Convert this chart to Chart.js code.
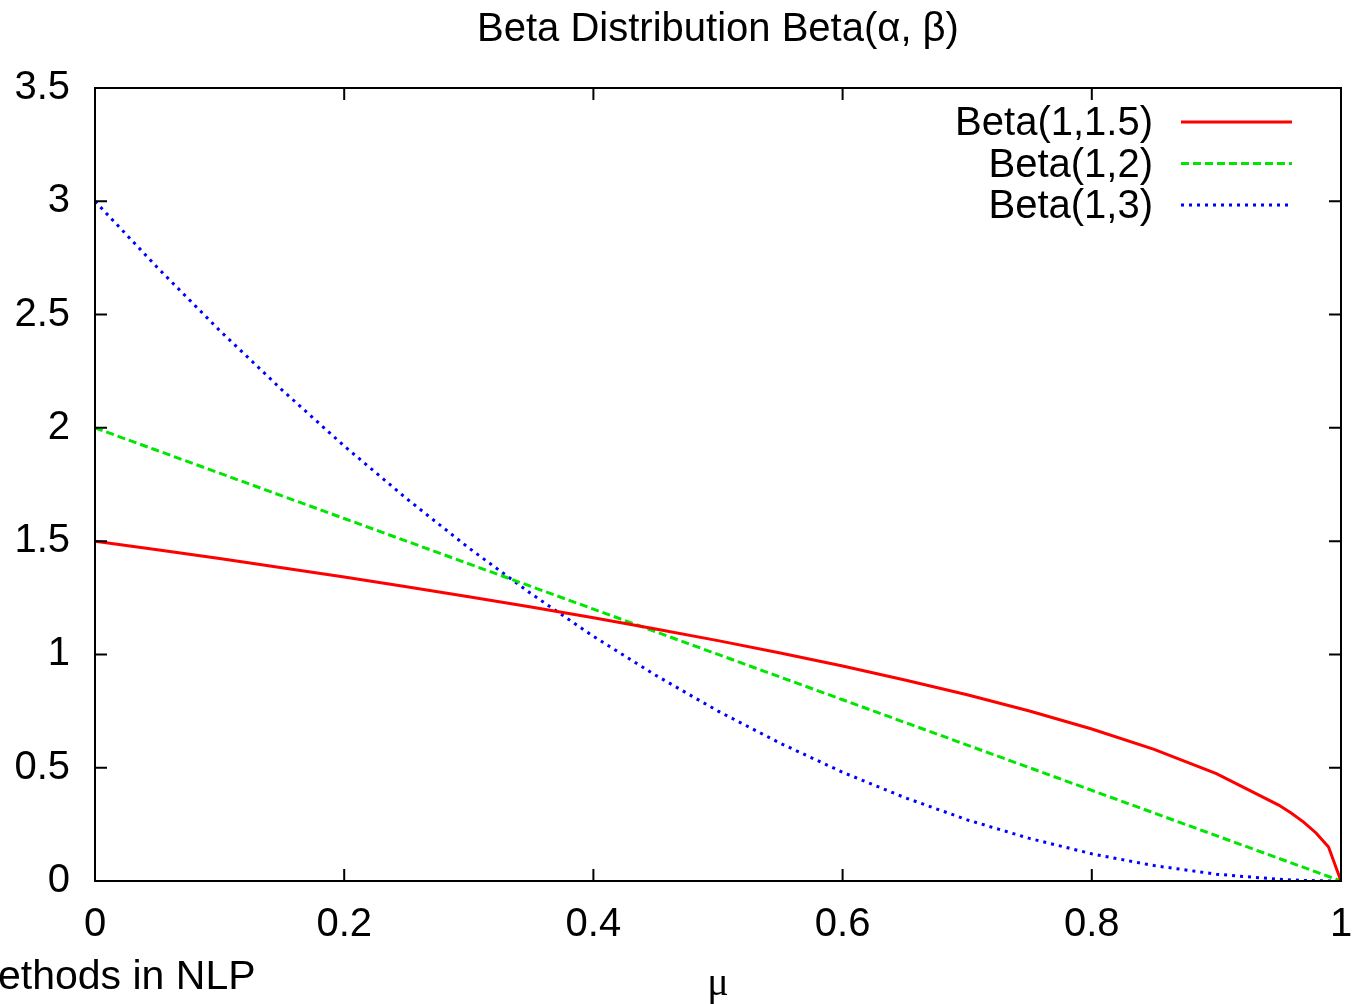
<!DOCTYPE html>
<html>
<head>
<meta charset="utf-8">
<script src="https://cdn.jsdelivr.net/npm/chart.js@4"></script>
<style>
  body { margin: 0; background: #fff; overflow: hidden; }
  #wrap { position: relative; width: 1354px; height: 1004px; }
  #footer { position: absolute; left: -2px; top: 952px; font: 41px "Liberation Sans", Arial, sans-serif; color: #000; white-space: nowrap; }
</style>
</head>
<body>
<div id="wrap">
  <canvas id="betaChart"></canvas>
  <div id="footer">ethods in NLP</div>
</div>
<script>
// values
const muValues = [0, 0.05, 0.1, 0.15, 0.2, 0.25, 0.3, 0.35, 0.4, 0.45, 0.5, 0.55, 0.6, 0.65, 0.7, 0.75, 0.8, 0.85, 0.9, 0.95, 0.96, 0.97, 0.98, 0.99, 1];
const beta1_15 = [1.5, 1.462, 1.423, 1.383, 1.342, 1.299, 1.255, 1.209, 1.162, 1.112, 1.061, 1.006, 0.949, 0.887, 0.822, 0.75, 0.671, 0.581, 0.474, 0.335, 0.30, 0.26, 0.212, 0.15, 0];
const beta1_2 = [2, 1.9, 1.8, 1.7, 1.6, 1.5, 1.4, 1.3, 1.2, 1.1, 1.0, 0.9, 0.8, 0.7, 0.6, 0.5, 0.4, 0.3, 0.2, 0.1, 0.08, 0.06, 0.04, 0.02, 0];
const beta1_3 = [3, 2.708, 2.43, 2.168, 1.92, 1.688, 1.47, 1.268, 1.08, 0.908, 0.75, 0.608, 0.48, 0.368, 0.27, 0.188, 0.12, 0.068, 0.03, 0.0075, 0.0048, 0.0027, 0.0012, 0.0003, 0];
const seriesLabels = ['Beta(1,1.5)', 'Beta(1,2)', 'Beta(1,3)'];

const FONT = '"Liberation Sans", Arial, sans-serif';

function toPoints(ys) {
  return muValues.map((x, i) => ({ x: x, y: ys[i] }));
}

// gnuplot style frame with inward ticks on all four sides
const framePlugin = {
  id: 'frame',
  afterDatasetsDraw(chart) {
    const { ctx, chartArea: a, scales } = chart;
    ctx.save();
    ctx.strokeStyle = '#000';
    ctx.lineWidth = 2;
    ctx.strokeRect(a.left, a.top, a.right - a.left, a.bottom - a.top);
    const len = 12;
    ctx.beginPath();
    scales.x.ticks.forEach(t => {
      const px = scales.x.getPixelForValue(t.value);
      ctx.moveTo(px, a.bottom); ctx.lineTo(px, a.bottom - len);
      ctx.moveTo(px, a.top); ctx.lineTo(px, a.top + len);
    });
    scales.y.ticks.forEach(t => {
      const py = scales.y.getPixelForValue(t.value);
      ctx.moveTo(a.left, py); ctx.lineTo(a.left + len, py);
      ctx.moveTo(a.right, py); ctx.lineTo(a.right - len, py);
    });
    ctx.stroke();
    ctx.restore();
  },
  afterDraw(chart) {
    // legend in the top right, text first then sample line
    const { ctx, chartArea: a } = chart;
    ctx.save();
    ctx.font = '40px ' + FONT;
    ctx.textAlign = 'right';
    ctx.textBaseline = 'middle';
    chart.data.datasets.forEach((ds, i) => {
      const y = a.top + 34 + i * 41.5;
      ctx.fillStyle = '#000';
      ctx.fillText(ds.label, 1153, y + 2);
      ctx.strokeStyle = ds.borderColor;
      ctx.lineWidth = ds.borderWidth;
      ctx.setLineDash(ds.borderDash || []);
      ctx.beginPath();
      ctx.moveTo(1181, y);
      ctx.lineTo(1292, y);
      ctx.stroke();
    });
    ctx.restore();
  }
};

new Chart(document.getElementById('betaChart'), {
  type: 'line',
  data: {
    datasets: [
      { label: seriesLabels[0], data: toPoints(beta1_15), borderColor: '#ff0000', borderWidth: 3, pointRadius: 0, tension: 0 },
      { label: seriesLabels[1], data: toPoints(beta1_2), borderColor: '#00e600', borderWidth: 3, borderDash: [8, 4], pointRadius: 0, tension: 0 },
      { label: seriesLabels[2], data: toPoints(beta1_3), borderColor: '#0000ff', borderWidth: 3, borderDash: [3, 5], pointRadius: 0, tension: 0 }
    ]
  },
  options: {
    responsive: true,
    maintainAspectRatio: false,
    animation: false,
    layout: { padding: { left: 0, right: 13, top: 0, bottom: 0 } },
    plugins: {
      legend: { display: false },
      tooltip: { enabled: false }
    },
    scales: {
      x: {
        type: 'linear',
        position: 'bottom',
        min: 0, max: 1,
        grid: { display: false },
        border: { display: false },
        ticks: {
          stepSize: 0.2,
          color: '#000',
          padding: 12,
          maxRotation: 0,
          font: { family: FONT, size: 40 },
          callback: v => String(Math.round(v * 10) / 10)
        },
        title: {
          display: true,
          text: 'μ',
          color: '#000',
          font: { family: '"Liberation Serif", "DejaVu Serif", serif', size: 40, lineHeight: 1.0 },
          padding: { top: 0, bottom: 0 }
        },
        afterFit(scale) {
          scale.height = 123;
          scale.paddingLeft = 0;
          scale.paddingRight = 0;
        }
      },
      x2: {
        type: 'linear',
        position: 'top',
        min: 0, max: 1,
        grid: { display: false },
        border: { display: false },
        ticks: { display: false },
        title: {
          display: true,
          text: 'Beta Distribution Beta(α, β)',
          color: '#000',
          font: { family: FONT, size: 40 },
          padding: { top: 6, bottom: 0 }
        },
        afterFit(scale) { scale.height = 88; }
      },
      y: {
        min: 0, max: 3.5,
        grid: { display: false },
        border: { display: false },
        ticks: {
          stepSize: 0.5,
          color: '#000',
          padding: 17,
          font: { family: FONT, size: 40 },
          callback: v => String(v)
        },
        afterFit(scale) { scale.width = 95; }
      }
    }
  },
  plugins: [framePlugin]
});
</script>
</body>
</html>
